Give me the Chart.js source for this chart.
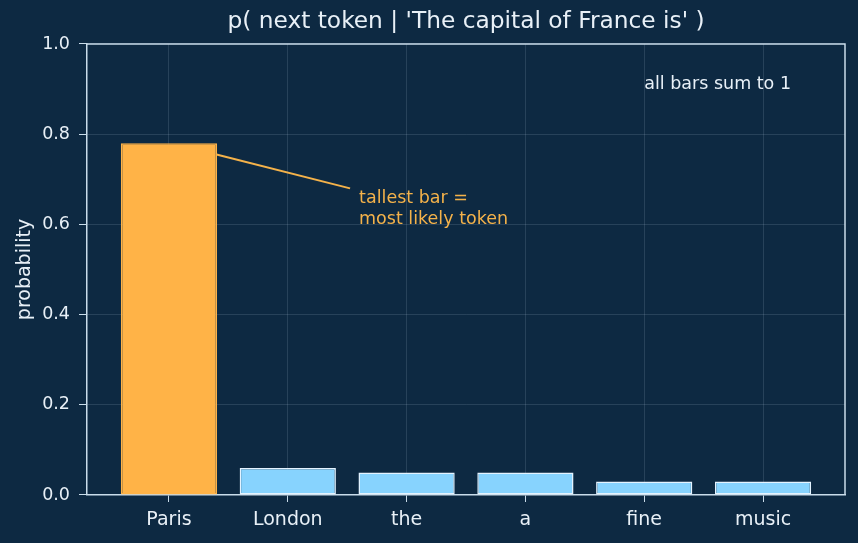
<!DOCTYPE html>
<html>
<head>
<meta charset="utf-8">
<script src="https://cdn.jsdelivr.net/npm/chart.js@4"></script>
<style>
html, body { margin: 0; padding: 0; background: #0d2942; }
#wrap { width: 858px; height: 543px; }
</style>
</head>
<body>
<div id="wrap"><canvas id="probChart" width="858" height="543"></canvas></div>
<script>
// data
var tokens = ['Paris', 'London', 'the', 'a', 'fine', 'music'];
var probs = [0.78, 0.06, 0.05, 0.05, 0.03, 0.03];
var yMin = 0, yMax = 1, yStep = 0.2;
var titleText = "p( next token | 'The capital of France is' )";
var yLabel = 'probability';
var noteLines = ['tallest bar =', 'most likely token'];
var notePoint = [0.4, 0.755];   // where the line touches the Paris bar
var noteText = [1.6, 0.6];      // baseline of the last note line
var sumNote = 'all bars sum to 1';
var sumAt = [4, 0.9];

var bg = '#0d2942';
var fg = '#e8f0f7';
var spine = '#c9dcea';
var gridCol = 'rgba(200,220,240,0.14)';
var orange = '#ffb347';
var blue = '#87d3fe';
var noteCol = '#f4b24a';
var fontFam = '"DejaVu Sans", sans-serif';

var points = [];
for (var i = 0; i < tokens.length; i++) {
	points.push({ x: i, y: probs[i] });
}
var fills = probs.map(function (p, i) { return i == 0 ? orange : blue; });
var edges = probs.map(function (p, i) { return i == 0 ? orange : '#e4f3ff'; });

var extras = {
	id: 'extras',
	beforeDraw: function (chart) {
		var c = chart.ctx;
		c.save();
		c.fillStyle = bg;
		c.fillRect(0, 0, chart.width, chart.height);
		c.restore();
	},
	afterDraw: function (chart) {
		var c = chart.ctx, a = chart.chartArea;
		var xs = chart.scales.x, ys = chart.scales.y;
		c.save();
		// top and right spines
		c.strokeStyle = spine;
		c.lineWidth = 1.5;
		c.beginPath();
		c.moveTo(a.left, a.top);
		c.lineTo(a.right, a.top);
		c.lineTo(a.right, a.bottom);
		c.stroke();

		// pointer line to the tallest bar
		var tx = xs.getPixelForValue(noteText[0]);
		var ty = ys.getPixelForValue(noteText[1]);
		c.strokeStyle = noteCol;
		c.lineWidth = 2;
		c.beginPath();
		c.moveTo(xs.getPixelForValue(notePoint[0]), ys.getPixelForValue(notePoint[1]));
		c.lineTo(tx - 9, ty - 36);
		c.stroke();

		c.fillStyle = noteCol;
		c.font = '17.5px ' + fontFam;
		c.textAlign = 'left';
		c.textBaseline = 'alphabetic';
		c.fillText(noteLines[0], tx, ty - 21);
		c.fillText(noteLines[1], tx, ty);

		c.fillStyle = fg;
		c.font = '17.5px ' + fontFam;
		c.fillText(sumNote, xs.getPixelForValue(sumAt[0]), ys.getPixelForValue(sumAt[1]));
		c.restore();
	}
};

var ctx = document.getElementById('probChart').getContext('2d');
var myChart = new Chart(ctx, {
	type: 'bar',
	data: {
		datasets: [{
			data: points,
			backgroundColor: fills,
			borderColor: edges,
			borderWidth: 1.5,
			borderSkipped: false,
			barPercentage: 0.81,
			categoryPercentage: 1.0
		}]
	},
	options: {
		responsive: false,
		animation: false,
		layout: { padding: { left: 0, right: 13, top: 0, bottom: 0 } },
		plugins: {
			legend: { display: false },
			tooltip: { enabled: false },
			title: {
				display: true,
				fullSize: false,
				text: titleText,
				color: fg,
				font: { family: fontFam, size: 23.3, weight: 'normal' },
				padding: { top: 8, bottom: 8 }
			}
		},
		scales: {
			x: {
				type: 'linear',
				min: -0.69,
				max: 5.69,
				offset: false,
				z: 1,
				afterBuildTicks: function (scale) {
					scale.ticks = tokens.map(function (t, i) { return { value: i }; });
				},
				afterFit: function (scale) { scale.height = 48; },
				ticks: {
					autoSkip: false,
					maxRotation: 0,
					color: fg,
					padding: 7,
					font: { family: fontFam, size: 19 },
					callback: function (v) { return tokens[v]; }
				},
				grid: { offset: false, color: gridCol, tickColor: spine, tickLength: 7, lineWidth: 1 },
				border: { color: spine, width: 1.5 }
			},
			y: {
				min: yMin,
				max: yMax,
				z: 1,
				afterFit: function (scale) { scale.width = 87; },
				ticks: {
					stepSize: yStep,
					color: fg,
					padding: 9,
					font: { family: fontFam, size: 17.5 },
					callback: function (v) { return v.toFixed(1); }
				},
				title: {
					display: true,
					text: yLabel,
					color: fg,
					font: { family: fontFam, size: 19 },
					padding: { top: 14, bottom: 0 }
				},
				grid: { color: gridCol, tickColor: spine, tickLength: 8, lineWidth: 1 },
				border: { color: spine, width: 1.5 }
			}
		}
	},
	plugins: [extras]
});
</script>
</body>
</html>
